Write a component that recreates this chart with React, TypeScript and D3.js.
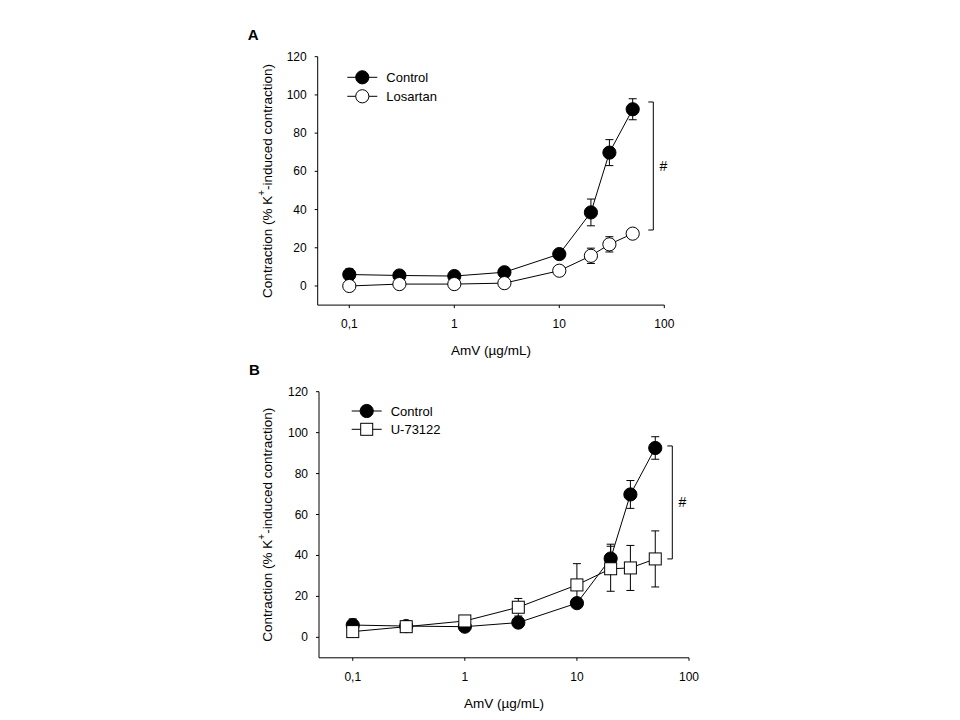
import React from "react";
import * as d3 from "d3";

const doses = [0.1, 0.3, 1, 3, 10, 20, 30, 50];
const controlMean = [6, 5.5, 5.2, 7.2, 16.7, 38.5, 69.8, 92.5];
const controlErr = [3, 1.5, 1.5, 1.5, 2, 7, 6.8, 5.5];
const losartanMean = [0, 1, 1, 1.5, 8, 15.8, 21.8, 27.4];
const losartanErr = [1, 1, 1, 1, 1.5, 4, 4, 2];
const u73122Mean = [2.8, 5.2, 8, 14.7, 25.6, 33.5, 33.9, 38.3];
const u73122Err = [1, 1.5, 1.5, 4.3, 10.4, 11, 11, 13.7];
const yTicks = [0, 20, 40, 60, 80, 100, 120];
const xTicks = [0.1, 1, 10, 100];
const xTickLabels = ["0,1", "1", "10", "100"];
const bracketA = [96.3, 29.3];
const bracketB = [93.5, 38.3];

type Series = { name: string; mean: number[]; err: number[]; shape: "filledCircle" | "openCircle" | "openSquare" };

type PanelProps = {
  label: string;
  left: number;
  right: number;
  yBottom: number;
  yTop: number;
  series: Series[];
  bracket: number[];
  bracketX: number;
  legendX: number;
  legendY: number;
  legendGap: number;
  titleX: number;
};

const FONT = "Liberation Sans, Arial, sans-serif";

function Marker({ shape, x, y }: { shape: string; x: number; y: number }) {
  if (shape === "openSquare") {
    return <rect x={x - 6} y={y - 6} width={12} height={12} fill="#fff" stroke="#000" strokeWidth={1} />;
  }
  return (
    <circle cx={x} cy={y} r={6.6} fill={shape === "filledCircle" ? "#000" : "#fff"} stroke="#000" strokeWidth={1} />
  );
}

function Panel(p: PanelProps) {
  const x = d3.scaleLog().domain([0.05, 100]).range([p.left, p.right]);
  const y = d3.scaleLinear().domain([-10, 120]).range([p.yBottom, p.yTop]);
  const line = d3
    .line<number>()
    .x((_, i) => x(doses[i]))
    .y((d) => y(d));
  const midY = (p.yBottom + p.yTop) / 2;
  return (
    <g fontFamily={FONT}>
      <text x={p.left - 70} y={p.yTop - 17} fontSize={15} fontWeight="bold">
        {p.label}
      </text>
      {/* axes */}
      <line x1={p.left} x2={p.left} y1={p.yTop} y2={p.yBottom} stroke="#000" strokeWidth={1} />
      <line x1={p.left} x2={p.right} y1={p.yBottom} y2={p.yBottom} stroke="#000" strokeWidth={1} />
      {yTicks.map((t) => (
        <g key={t}>
          <line x1={p.left - 3} x2={p.left} y1={y(t)} y2={y(t)} stroke="#000" />
          <text x={p.left - 11} y={y(t) + 4} fontSize={12} textAnchor="end">
            {t}
          </text>
        </g>
      ))}
      {xTicks.map((t, i) => (
        <g key={t}>
          <line x1={x(t)} x2={x(t)} y1={p.yBottom} y2={p.yBottom + 3} stroke="#000" />
          <text x={x(t)} y={p.yBottom + 23} fontSize={12} textAnchor="middle">
            {xTickLabels[i]}
          </text>
        </g>
      ))}
      <text x={(p.left + p.right) / 2} y={p.yBottom + 50} fontSize={13.5} textAnchor="middle">
        AmV (µg/mL)
      </text>
      <text
        transform={`translate(${p.titleX},${midY}) rotate(-90)`}
        fontSize={13.5}
        textAnchor="middle"
        dominantBaseline="middle"
      >
        Contraction (% K<tspan dy={-6} fontSize={10}>+</tspan>
        <tspan dy={6}>-induced contraction)</tspan>
      </text>
      {/* series */}
      {p.series.map((s) => (
        <g key={s.name}>
          <path d={line(s.mean) || ""} fill="none" stroke="#000" strokeWidth={1} />
          {s.mean.map((m, i) => {
            const cx = x(doses[i]);
            return (
              <g key={i}>
                <line x1={cx} x2={cx} y1={y(m - s.err[i])} y2={y(m + s.err[i])} stroke="#000" />
                <line x1={cx - 4} x2={cx + 4} y1={y(m + s.err[i])} y2={y(m + s.err[i])} stroke="#000" />
                <line x1={cx - 4} x2={cx + 4} y1={y(m - s.err[i])} y2={y(m - s.err[i])} stroke="#000" />
              </g>
            );
          })}
          {s.mean.map((m, i) => (
            <Marker key={"m" + i} shape={s.shape} x={x(doses[i])} y={y(m)} />
          ))}
        </g>
      ))}
      {/* bracket */}
      <path
        d={`M${p.bracketX - 5},${y(p.bracket[0])}H${p.bracketX}V${y(p.bracket[1])}H${p.bracketX - 5}`}
        fill="none"
        stroke="#000"
        strokeWidth={1}
      />
      <text x={p.bracketX + 10} y={(y(p.bracket[0]) + y(p.bracket[1])) / 2 + 5} fontSize={14} textAnchor="middle">
        #
      </text>
      {/* legend */}
      {p.series.map((s, i) => {
        const ly = p.legendY + i * p.legendGap;
        return (
          <g key={"lg" + s.name}>
            <line x1={p.legendX - 15} x2={p.legendX + 15} y1={ly} y2={ly} stroke="#000" />
            <Marker shape={s.shape} x={p.legendX} y={ly} />
            <text x={p.legendX + 24} y={ly + 5} fontSize={13}>
              {s.name}
            </text>
          </g>
        );
      })}
    </g>
  );
}

export default function App() {
  return (
    <svg width={960} height={720} style={{ position: "absolute", left: 0, top: 0, background: "#fff" }}>
      <rect width={960} height={720} fill="#fff" />
      <Panel
        label="A"
        left={317.7}
        right={664.3}
        yBottom={305.1}
        yTop={56.7}
        series={[
          { name: "Control", mean: controlMean, err: controlErr, shape: "filledCircle" },
          { name: "Losartan", mean: losartanMean, err: losartanErr, shape: "openCircle" },
        ]}
        bracket={bracketA}
        bracketX={653.3}
        legendX={362.3}
        legendY={77.3}
        legendGap={19}
        titleX={268.3}
      />
      <Panel
        label="B"
        left={319}
        right={689}
        yBottom={657.8}
        yTop={391.7}
        series={[
          { name: "Control", mean: controlMean, err: controlErr, shape: "filledCircle" },
          { name: "U-73122", mean: u73122Mean, err: u73122Err, shape: "openSquare" },
        ]}
        bracket={bracketB}
        bracketX={672.3}
        legendX={366.7}
        legendY={411}
        legendGap={18.3}
        titleX={268.3}
      />
    </svg>
  );
}
